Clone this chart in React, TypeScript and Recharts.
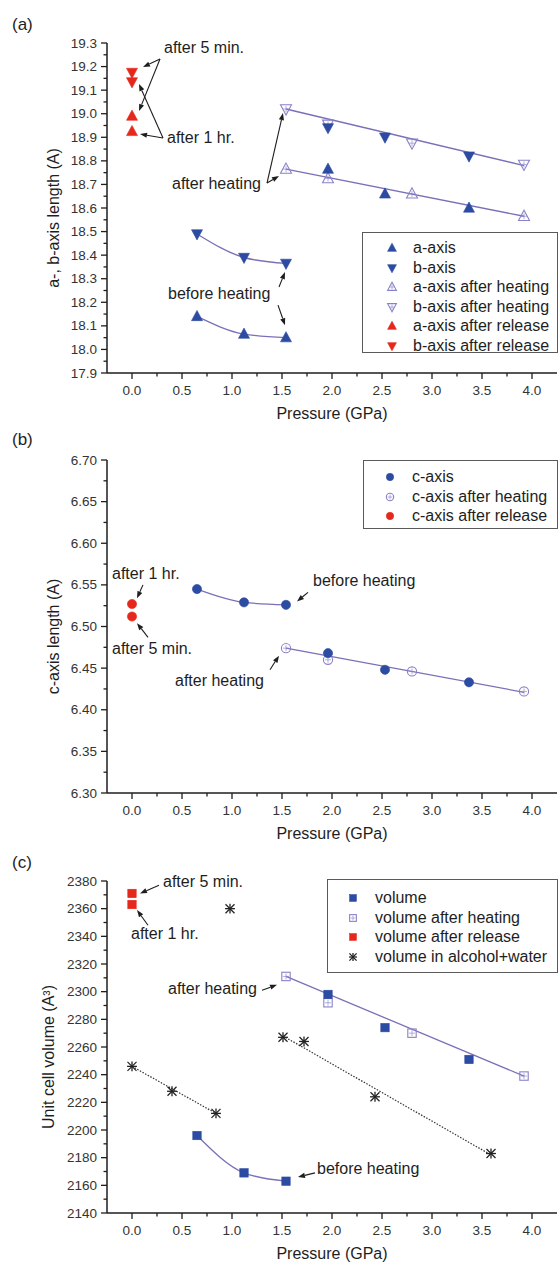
import React from "react";
import { ComposedChart, Line, Scatter, XAxis, YAxis, ReferenceLine } from "recharts";

const FONT = '"Liberation Sans", Arial, Helvetica, sans-serif';
const INK = "#1e1e1e";
const BLUE = "#2c4ba3";
const OPEN = "#8883c8";
const LINE = "#7a70b8";
const RED = "#e6281c";

// ---------- shared pressure axis ----------
const pMajor = [0, 0.5, 1, 1.5, 2, 2.5, 3, 3.5, 4];
const pMinor = [0.25, 0.75, 1.25, 1.75, 2.25, 2.75, 3.25, 3.75];

// ---------- (a) a-, b-axis ----------
const abMajor = [17.9, 18.0, 18.1, 18.2, 18.3, 18.4, 18.5, 18.6, 18.7, 18.8, 18.9, 19.0, 19.1, 19.2, 19.3];
const abMinor = [17.95, 18.05, 18.15, 18.25, 18.35, 18.45, 18.55, 18.65, 18.75, 18.85, 18.95, 19.05, 19.15, 19.25];

const aBefore = [
  { P: 0.65, v: 18.14 },
  { P: 1.12, v: 18.065 },
  { P: 1.54, v: 18.05 },
];
const aAfterFilled = [
  { P: 1.96, v: 18.765 },
  { P: 2.53, v: 18.66 },
  { P: 3.37, v: 18.6 },
];
const aHeated = [
  { P: 1.54, v: 18.765 },
  { P: 1.96, v: 18.725 },
  { P: 2.8, v: 18.66 },
  { P: 3.92, v: 18.565 },
];
const aRelease = [
  { P: 0, v: 18.99 },
  { P: 0, v: 18.925 },
];
const aFit = [
  { P: 1.54, v: 18.765 },
  { P: 3.92, v: 18.565 },
];

const bBefore = [
  { P: 0.65, v: 18.49 },
  { P: 1.12, v: 18.39 },
  { P: 1.54, v: 18.365 },
];
const bAfterFilled = [
  { P: 1.96, v: 18.94 },
  { P: 2.53, v: 18.9 },
  { P: 3.37, v: 18.82 },
];
const bHeated = [
  { P: 1.54, v: 19.02 },
  { P: 1.96, v: 18.955 },
  { P: 2.8, v: 18.875 },
  { P: 3.92, v: 18.785 },
];
const bRelease = [
  { P: 0, v: 19.175 },
  { P: 0, v: 19.135 },
];
const bFit = [
  { P: 1.54, v: 19.02 },
  { P: 3.92, v: 18.78 },
];

const notesA = [
  { P: 0.32, v: 19.279, text: "after 5 min." },
  { P: 0.35, v: 18.897, text: "after 1 hr." },
  { P: 0.4, v: 18.706, text: "after heating" },
  { P: 0.36, v: 18.239, text: "before heating" },
];
const arrowsA = [
  [{ x: 0.28, y: 19.232 }, { x: 0.11, y: 19.198 }],
  [{ x: 0.28, y: 19.232 }, { x: 0.07, y: 19.011 }],
  [{ x: 0.31, y: 18.897 }, { x: 0.08, y: 18.914 }],
  [{ x: 0.31, y: 18.897 }, { x: 0.07, y: 19.126 }],
  [{ x: 1.35, y: 18.706 }, { x: 1.51, y: 19.003 }],
  [{ x: 1.35, y: 18.706 }, { x: 1.47, y: 18.736 }],
  [{ x: 1.47, y: 18.265 }, { x: 1.53, y: 18.328 }],
  [{ x: 1.46, y: 18.188 }, { x: 1.53, y: 18.103 }],
];
const legendA = [
  "a-axis",
  "b-axis",
  "a-axis after heating",
  "b-axis after heating",
  "a-axis after release",
  "b-axis after release",
];

// ---------- (b) c-axis ----------
const cMajor = [6.3, 6.35, 6.4, 6.45, 6.5, 6.55, 6.6, 6.65, 6.7];
const cMinor = [6.325, 6.375, 6.425, 6.475, 6.525, 6.575, 6.625, 6.675];

const cBefore = [
  { P: 0.65, v: 6.545 },
  { P: 1.12, v: 6.529 },
  { P: 1.54, v: 6.526 },
];
const cAfterFilled = [
  { P: 1.96, v: 6.468 },
  { P: 2.53, v: 6.448 },
  { P: 3.37, v: 6.433 },
];
const cHeated = [
  { P: 1.54, v: 6.474 },
  { P: 1.96, v: 6.46 },
  { P: 2.8, v: 6.446 },
  { P: 3.92, v: 6.422 },
];
const cRelease = [
  { P: 0, v: 6.527 },
  { P: 0, v: 6.512 },
];
const cFit = [
  { P: 1.54, v: 6.474 },
  { P: 3.92, v: 6.421 },
];
const notesB = [
  { P: -0.2, v: 6.564, text: "after 1 hr." },
  { P: -0.2, v: 6.474, text: "after 5 min." },
  { P: 0.43, v: 6.435, text: "after heating" },
  { P: 1.81, v: 6.555, text: "before heating" },
];
const arrowsB = [
  [{ x: 0.11, y: 6.55 }, { x: 0.05, y: 6.534 }],
  [{ x: 0.16, y: 6.487 }, { x: 0.05, y: 6.504 }],
  [{ x: 1.38, y: 6.448 }, { x: 1.47, y: 6.465 }],
  [{ x: 1.76, y: 6.541 }, { x: 1.65, y: 6.53 }],
];
const legendB = ["c-axis", "c-axis after heating", "c-axis after release"];

// ---------- (c) volume ----------
const volMajor = [2140, 2160, 2180, 2200, 2220, 2240, 2260, 2280, 2300, 2320, 2340, 2360, 2380];
const volMinor = [2150, 2170, 2190, 2210, 2230, 2250, 2270, 2290, 2310, 2330, 2350, 2370];

const volBefore = [
  { P: 0.65, v: 2196 },
  { P: 1.12, v: 2169 },
  { P: 1.54, v: 2163 },
];
const volAfterFilled = [
  { P: 1.96, v: 2298 },
  { P: 2.53, v: 2274 },
  { P: 3.37, v: 2251 },
];
const volHeated = [
  { P: 1.54, v: 2311 },
  { P: 1.96, v: 2292 },
  { P: 2.8, v: 2270 },
  { P: 3.92, v: 2239 },
];
const volRelease = [
  { P: 0, v: 2371 },
  { P: 0, v: 2363 },
];
const volWater = [
  { P: 0, v: 2246 },
  { P: 0.4, v: 2228 },
  { P: 0.84, v: 2212 },
  { P: 0.98, v: 2360 },
  { P: 1.51, v: 2267 },
  { P: 1.72, v: 2264 },
  { P: 2.43, v: 2224 },
  { P: 3.59, v: 2183 },
];
const volFit = [
  { P: 1.54, v: 2311 },
  { P: 3.92, v: 2239 },
];
const waterFitLow = [
  { P: 0, v: 2246 },
  { P: 0.84, v: 2212 },
];
const waterFitHigh = [
  { P: 1.51, v: 2268 },
  { P: 3.59, v: 2182 },
];
const notesC = [
  { P: 0.31, v: 2380, text: "after 5 min." },
  { P: -0.01, v: 2342, text: "after 1 hr." },
  { P: 0.36, v: 2302, text: "after heating" },
  { P: 1.85, v: 2172, text: "before heating" },
];
const arrowsC = [
  [{ x: 0.27, y: 2377 }, { x: 0.08, y: 2371 }],
  [{ x: 0.16, y: 2348 }, { x: 0.05, y: 2359 }],
  [{ x: 1.3, y: 2301 }, { x: 1.45, y: 2305 }],
  [{ x: 1.83, y: 2169 }, { x: 1.66, y: 2166 }],
];
const legendC = ["volume", "volume after heating", "volume after release", "volume in alcohol+water"];

// ---------- markers ----------
type Kind = "up" | "down" | "circle" | "square" | "star";

function Marker({ cx, cy, kind, color, open, s = 1 }: { cx: number; cy: number; kind: Kind; color: string; open?: boolean; s?: number }) {
  const fill = open ? "none" : color;
  const stroke = color;
  const sw = open ? 1.1 : 0.6;
  const cross = open ? (
    <g stroke={color} strokeWidth={0.8} opacity={0.8}>
      <line x1={cx - 3 * s} x2={cx + 3 * s} y1={cy} y2={cy} />
      <line x1={cx} x2={cx} y1={cy - 3 * s} y2={cy + 3 * s} />
    </g>
  ) : null;
  if (kind === "up" || kind === "down") {
    const w = 5.5 * s;
    const t = 6 * s;
    const b = 4.2 * s;
    const pts =
      kind === "up"
        ? `${cx},${cy - t} ${cx - w},${cy + b} ${cx + w},${cy + b}`
        : `${cx},${cy + t} ${cx - w},${cy - b} ${cx + w},${cy - b}`;
    return (
      <g>
        <polygon points={pts} fill={fill} stroke={stroke} strokeWidth={sw} />
        {cross}
      </g>
    );
  }
  if (kind === "circle") {
    return (
      <g>
        <circle cx={cx} cy={cy} r={4.6 * s} fill={fill} stroke={stroke} strokeWidth={sw} />
        {cross}
      </g>
    );
  }
  if (kind === "square") {
    const h = 4.2 * s;
    return (
      <g>
        <rect x={cx - h} y={cy - h} width={2 * h} height={2 * h} fill={fill} stroke={stroke} strokeWidth={sw} />
        {cross}
      </g>
    );
  }
  const r = 4.5 * s;
  return (
    <g stroke={color} strokeWidth={1.3}>
      <line x1={cx - r} y1={cy - r} x2={cx + r} y2={cy + r} />
      <line x1={cx - r} y1={cy + r} x2={cx + r} y2={cy - r} />
      <line x1={cx - r * 1.1} y1={cy} x2={cx + r * 1.1} y2={cy} />
      <line x1={cx} y1={cy - r * 1.1} x2={cx} y2={cy + r * 1.1} />
    </g>
  );
}

const shape = (kind: Kind, color: string, open?: boolean) => (p: any) =>
  <Marker cx={p.cx} cy={p.cy} kind={kind} color={color} open={open} />;

const noteShape = (p: any) => (
  <text x={p.cx} y={p.cy} dominantBaseline="central" fontSize={16} fill={INK} fontFamily={FONT}>
    {p.payload.text}
  </text>
);

const Arrow = (p: any) => {
  const { x1, y1, x2, y2 } = p;
  const dx = x2 - x1;
  const dy = y2 - y1;
  const len = Math.hypot(dx, dy) || 1;
  const ux = dx / len;
  const uy = dy / len;
  const hl = 7;
  const hw = 2.6;
  const bx = x2 - ux * hl;
  const by = y2 - uy * hl;
  return (
    <g>
      <line x1={x1} y1={y1} x2={bx} y2={by} stroke={INK} strokeWidth={1.1} />
      <polygon points={`${x2},${y2} ${bx - uy * hw},${by + ux * hw} ${bx + uy * hw},${by - ux * hw}`} fill={INK} />
    </g>
  );
};

// ---------- axes ----------
const near = (arr: number[], v: number) => arr.some((m) => Math.abs(m - v) < 1e-6);

const XTick = (props: any) => {
  const { x, y, payload } = props;
  const major = near(pMajor, payload.value);
  return (
    <g>
      <line x1={x} x2={x} y1={y} y2={y + (major ? 6 : 3.5)} stroke={INK} strokeWidth={1.3} />
      {major && (
        <text x={x} y={y + 17} textAnchor="middle" dominantBaseline="central" fontSize={13.5} fill="#333" fontFamily={FONT}>
          {payload.value.toFixed(1)}
        </text>
      )}
    </g>
  );
};

const makeYTick = (major: number[], digits: number) => (props: any) => {
  const { x, y, payload } = props;
  const isMajor = near(major, payload.value);
  return (
    <g>
      <line x1={x - (isMajor ? 6 : 3.5)} x2={x} y1={y} y2={y} stroke={INK} strokeWidth={1.3} />
      {isMajor && (
        <text x={x - 10} y={y} textAnchor="end" dominantBaseline="central" fontSize={13.5} fill="#333" fontFamily={FONT}>
          {payload.value.toFixed(digits)}
        </text>
      )}
    </g>
  );
};

const xTitle = (props: any) => {
  const vb = props.viewBox;
  return (
    <text x={vb.x + vb.width / 2} y={vb.y + 40} textAnchor="middle" dominantBaseline="central" fontSize={16} fill={INK} fontFamily={FONT}>
      Pressure (GPa)
    </text>
  );
};

const yTitle = (text: React.ReactNode, cx: number) => (props: any) => {
  const vb = props.viewBox;
  const cy = vb.y + vb.height / 2 + 10;
  return (
    <text x={cx} y={cy} transform={`rotate(-90 ${cx} ${cy})`} textAnchor="middle" dominantBaseline="central" fontSize={16} fill={INK} fontFamily={FONT}>
      {text}
    </text>
  );
};

const axisLine = { stroke: INK, strokeWidth: 1.5 };
const sortTicks = (a: number[], b: number[]) => [...a, ...b].sort((m, n) => m - n);

// ---------- legend ----------
type LegendRow = { name: string; kind: Kind; color: string; open?: boolean };

function LegendBox({ left, top, width, height, first, markerX, textX, rows }: {
  left: number; top: number; width: number; height: number; first: number; markerX: number; textX: number; rows: LegendRow[];
}) {
  return (
    <div
      style={{
        position: "absolute",
        left,
        top,
        width,
        height,
        boxSizing: "border-box",
        border: "1.5px solid #5a5a5a",
        background: "#fff",
        fontFamily: FONT,
        fontSize: 16,
        color: INK,
      }}
    >
      {rows.map((r, i) => (
        <div key={r.name} style={{ position: "absolute", left: 0, top: first + i * 19.6 - 10, height: 20, lineHeight: "20px", width: width - 4 }}>
          <svg width={16} height={16} style={{ position: "absolute", left: markerX - 8, top: 2 }}>
            <Marker cx={8} cy={8} kind={r.kind} color={r.color} open={r.open} s={0.8} />
          </svg>
          <span style={{ position: "absolute", left: textX, top: 0, whiteSpace: "nowrap" }}>{r.name}</span>
        </div>
      ))}
    </div>
  );
}

const tagStyle = (top: number): React.CSSProperties => ({
  position: "absolute",
  left: 12,
  top,
  fontFamily: FONT,
  fontSize: 17,
  color: INK,
});

export default function App() {
  const pTicks = sortTicks(pMajor, pMinor);
  return (
    <div style={{ position: "absolute", left: 0, top: 0, width: 559, height: 1262, background: "#fff" }}>
      {/* (a) */}
      <div style={{ position: "absolute", left: 0, top: 0 }}>
        <ComposedChart width={559} height={430} margin={{ top: 43, right: 2, left: 0, bottom: 0 }}>
          <XAxis type="number" dataKey="P" domain={[-0.25, 4.25]} ticks={pTicks} interval={0} tickSize={0} tickMargin={0} tickLine={false} tick={XTick} axisLine={axisLine} height={57} label={xTitle} />
          <YAxis type="number" dataKey="v" domain={[17.9, 19.3]} ticks={sortTicks(abMajor, abMinor)} interval={0} tickSize={0} tickMargin={0} tickLine={false} tick={makeYTick(abMajor, 1)} axisLine={axisLine} width={107} label={yTitle("a-, b-axis length (A)", 53)} />
          <Line data={aBefore} dataKey="v" type="monotone" stroke={LINE} strokeWidth={1.3} dot={false} isAnimationActive={false} />
          <Line data={bBefore} dataKey="v" type="monotone" stroke={LINE} strokeWidth={1.3} dot={false} isAnimationActive={false} />
          <Line data={aFit} dataKey="v" type="linear" stroke={LINE} strokeWidth={1.3} dot={false} isAnimationActive={false} />
          <Line data={bFit} dataKey="v" type="linear" stroke={LINE} strokeWidth={1.3} dot={false} isAnimationActive={false} />
          {arrowsA.map((seg, i) => (
            <ReferenceLine key={i} segment={seg} shape={Arrow} />
          ))}
          <Scatter name="a-axis after heating" data={aHeated} shape={shape("up", OPEN, true)} isAnimationActive={false} />
          <Scatter name="b-axis after heating" data={bHeated} shape={shape("down", OPEN, true)} isAnimationActive={false} />
          <Scatter name="a-axis" data={[...aBefore, ...aAfterFilled]} shape={shape("up", BLUE)} isAnimationActive={false} />
          <Scatter name="b-axis" data={[...bBefore, ...bAfterFilled]} shape={shape("down", BLUE)} isAnimationActive={false} />
          <Scatter name="a-axis after release" data={aRelease} shape={shape("up", RED)} isAnimationActive={false} />
          <Scatter name="b-axis after release" data={bRelease} shape={shape("down", RED)} isAnimationActive={false} />
          <Scatter data={notesA} shape={noteShape} isAnimationActive={false} />
        </ComposedChart>
      </div>
      <div style={tagStyle(15)}>(a)</div>
      <LegendBox
        left={362}
        top={232}
        width={196}
        height={121}
        first={15}
        markerX={29}
        textX={50}
        rows={[
          { name: legendA[0], kind: "up", color: BLUE },
          { name: legendA[1], kind: "down", color: BLUE },
          { name: legendA[2], kind: "up", color: OPEN, open: true },
          { name: legendA[3], kind: "down", color: OPEN, open: true },
          { name: legendA[4], kind: "up", color: RED },
          { name: legendA[5], kind: "down", color: RED },
        ]}
      />

      {/* (b) */}
      <div style={{ position: "absolute", left: 0, top: 430 }}>
        <ComposedChart width={559} height={430} margin={{ top: 30, right: 2, left: 0, bottom: 0 }}>
          <XAxis type="number" dataKey="P" domain={[-0.25, 4.25]} ticks={pTicks} interval={0} tickSize={0} tickMargin={0} tickLine={false} tick={XTick} axisLine={axisLine} height={67} label={xTitle} />
          <YAxis type="number" dataKey="v" domain={[6.3, 6.7]} ticks={sortTicks(cMajor, cMinor)} interval={0} tickSize={0} tickMargin={0} tickLine={false} tick={makeYTick(cMajor, 2)} axisLine={axisLine} width={107} label={yTitle("c-axis length (A)", 53)} />
          <Line data={cBefore} dataKey="v" type="monotone" stroke={LINE} strokeWidth={1.3} dot={false} isAnimationActive={false} />
          <Line data={cFit} dataKey="v" type="linear" stroke={LINE} strokeWidth={1.3} dot={false} isAnimationActive={false} />
          {arrowsB.map((seg, i) => (
            <ReferenceLine key={i} segment={seg} shape={Arrow} />
          ))}
          <Scatter name="c-axis after heating" data={cHeated} shape={shape("circle", OPEN, true)} isAnimationActive={false} />
          <Scatter name="c-axis" data={[...cBefore, ...cAfterFilled]} shape={shape("circle", BLUE)} isAnimationActive={false} />
          <Scatter name="c-axis after release" data={cRelease} shape={shape("circle", RED)} isAnimationActive={false} />
          <Scatter data={notesB} shape={noteShape} isAnimationActive={false} />
        </ComposedChart>
      </div>
      <div style={tagStyle(430)}>(b)</div>
      <LegendBox
        left={363}
        top={460}
        width={195}
        height={69}
        first={16}
        markerX={26}
        textX={48}
        rows={[
          { name: legendB[0], kind: "circle", color: BLUE },
          { name: legendB[1], kind: "circle", color: OPEN, open: true },
          { name: legendB[2], kind: "circle", color: RED },
        ]}
      />

      {/* (c) */}
      <div style={{ position: "absolute", left: 0, top: 860 }}>
        <ComposedChart width={559} height={402} margin={{ top: 21, right: 2, left: 0, bottom: 0 }}>
          <XAxis type="number" dataKey="P" domain={[-0.25, 4.25]} ticks={pTicks} interval={0} tickSize={0} tickMargin={0} tickLine={false} tick={XTick} axisLine={axisLine} height={49} label={xTitle} />
          <YAxis type="number" dataKey="v" domain={[2140, 2380]} ticks={sortTicks(volMajor, volMinor)} interval={0} tickSize={0} tickMargin={0} tickLine={false} tick={makeYTick(volMajor, 0)} axisLine={axisLine} width={107} label={yTitle("Unit cell volume (A\u00B3)", 48)} />
          <Line data={volBefore} dataKey="v" type="monotone" stroke={LINE} strokeWidth={1.3} dot={false} isAnimationActive={false} />
          <Line data={volFit} dataKey="v" type="linear" stroke={LINE} strokeWidth={1.3} dot={false} isAnimationActive={false} />
          <Line data={waterFitLow} dataKey="v" type="linear" stroke="#333" strokeWidth={1.2} strokeDasharray="1.5 1.5" dot={false} isAnimationActive={false} />
          <Line data={waterFitHigh} dataKey="v" type="linear" stroke="#333" strokeWidth={1.2} strokeDasharray="1.5 1.5" dot={false} isAnimationActive={false} />
          {arrowsC.map((seg, i) => (
            <ReferenceLine key={i} segment={seg} shape={Arrow} />
          ))}
          <Scatter name="volume after heating" data={volHeated} shape={shape("square", OPEN, true)} isAnimationActive={false} />
          <Scatter name="volume" data={[...volBefore, ...volAfterFilled]} shape={shape("square", BLUE)} isAnimationActive={false} />
          <Scatter name="volume after release" data={volRelease} shape={shape("square", RED)} isAnimationActive={false} />
          <Scatter name="volume in alcohol+water" data={volWater} shape={shape("star", "#222")} isAnimationActive={false} />
          <Scatter data={notesC} shape={noteShape} isAnimationActive={false} />
        </ComposedChart>
      </div>
      <div style={tagStyle(853)}>(c)</div>
      <LegendBox
        left={327}
        top={879}
        width={231}
        height={94}
        first={18}
        markerX={25}
        textX={47}
        rows={[
          { name: legendC[0], kind: "square", color: BLUE },
          { name: legendC[1], kind: "square", color: OPEN, open: true },
          { name: legendC[2], kind: "square", color: RED },
          { name: legendC[3], kind: "star", color: "#222" },
        ]}
      />
    </div>
  );
}
